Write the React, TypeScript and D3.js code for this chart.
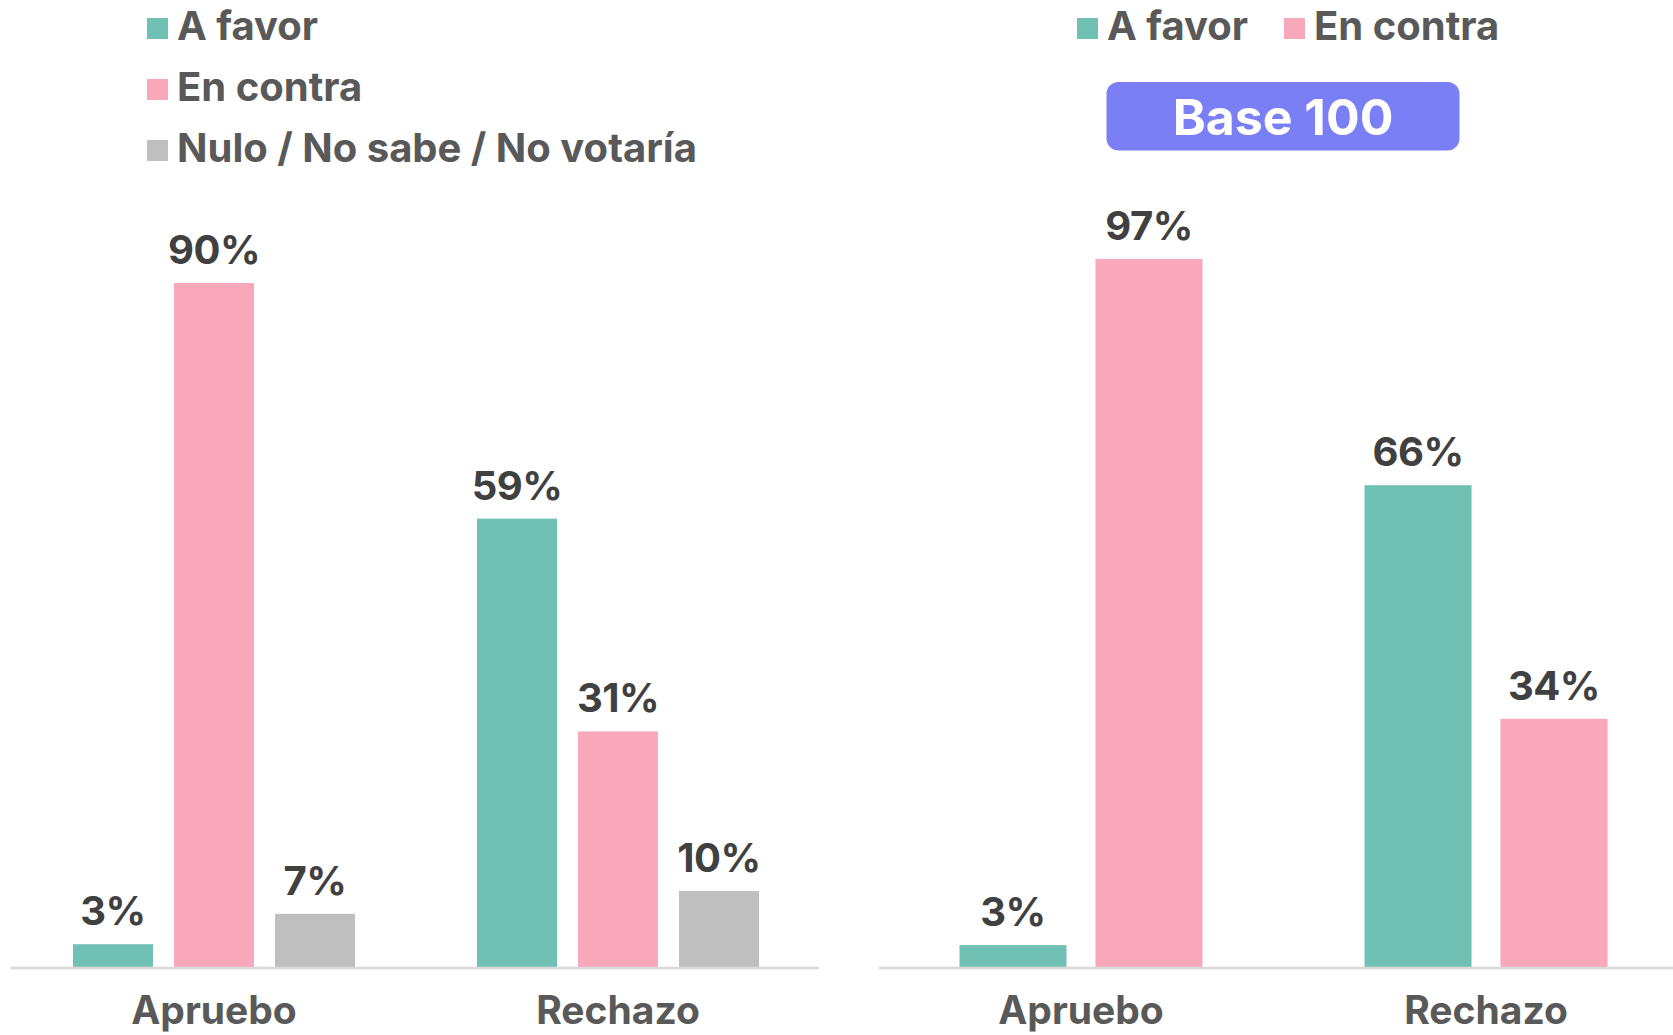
import React, { useEffect } from "react";
import * as d3 from "d3";

const categories = ["Apruebo", "Rechazo"];
const leftSeries = ["A favor", "En contra", "Nulo / No sabe / No votaría"];
const leftValues = [
  [3, 90, 7],
  [59, 31, 10],
];
const rightSeries = ["A favor", "En contra"];
const rightValues = [
  [3, 97],
  [66, 34],
];
const colors = ["#70C1B3", "#F8A8BA", "#BFBFBF"];
const badgeText = "Base 100";

const FONT = "Inter, 'Open Sans', sans-serif";
const BASE = 967;

export default function App() {
  useEffect(() => {
    document.body.style.margin = "0";
  }, []);

  // left chart scales
  const xL = d3.scaleBand<string>().domain(categories).range([12, 820]);
  const xLi = d3
    .scaleBand<string>()
    .domain(leftSeries)
    .range([50.5, 353.5])
    .paddingInner(0.208)
    .paddingOuter(0.104);
  const yL = d3.scaleLinear().domain([0, 100]).range([BASE, 207]);

  // right chart scales
  const xR = d3.scaleBand<string>().domain(categories).range([878.5, 1688.5]);
  const xRi = d3
    .scaleBand<string>()
    .domain(rightSeries)
    .range([66.5, 338.5])
    .paddingInner(0.213)
    .paddingOuter(0.1066);
  const yR = d3.scaleLinear().domain([0, 100]).range([BASE, 237]);

  return (
    <svg width={1673} height={1035} style={{ display: "block" }} fontFamily={FONT}>
      <rect width={1673} height={1035} fill="#fff" />
      {/* left legend */}
      {leftSeries.map((s, i) => (
        <g key={s} transform={`translate(147, ${18 + i * 61})`}>
          <rect width={21} height={21} fill={colors[i]} />
          <text x={30} y={22} fontSize={40} fontWeight={700} fill="#595959">
            {s}
          </text>
        </g>
      ))}
      {/* right legend */}
      {rightSeries.map((s, i) => (
        <g key={s} transform={`translate(${1077 + i * 207}, 18)`}>
          <rect width={21} height={21} fill={colors[i]} />
          <text x={30} y={22} fontSize={40} fontWeight={700} fill="#595959">
            {s}
          </text>
        </g>
      ))}
      {/* badge */}
      <rect x={1106.5} y={82} width={353} height={68.5} rx={12} fill="#7B7FF5" />
      <text x={1283} y={135} textAnchor="middle" fontSize={50} fontWeight={700} fill="#fff">
        {badgeText}
      </text>

      {/* left bars */}
      {categories.map((c, ci) => (
        <g key={"L" + c} transform={`translate(${xL(c)},0)`}>
          {leftSeries.map((s, si) => {
            const v = leftValues[ci][si];
            const x = xLi(s)!;
            return (
              <g key={s}>
                <rect x={x} y={yL(v)} width={xLi.bandwidth()} height={BASE - yL(v)} fill={colors[si]} />
                <text
                  x={x + xLi.bandwidth() / 2}
                  y={yL(v) - 19}
                  textAnchor="middle"
                  fontSize={40}
                  fontWeight={700}
                  fill="#404040"
                  letterSpacing={-0.5}
                >
                  {v}%
                </text>
              </g>
            );
          })}
          <text x={xL.bandwidth() / 2} y={1024} textAnchor="middle" fontSize={39} fontWeight={700} fill="#595959">
            {c}
          </text>
        </g>
      ))}
      <line x1={11} x2={819} y1={BASE + 1} y2={BASE + 1} stroke="#D9D9D9" strokeWidth={2.5} />

      {/* right bars */}
      {categories.map((c, ci) => (
        <g key={"R" + c} transform={`translate(${xR(c)},0)`}>
          {rightSeries.map((s, si) => {
            const v = rightValues[ci][si];
            const x = xRi(s)!;
            return (
              <g key={s}>
                <rect x={x} y={yR(v)} width={xRi.bandwidth()} height={BASE - yR(v)} fill={colors[si]} />
                <text
                  x={x + xRi.bandwidth() / 2}
                  y={yR(v) - 19}
                  textAnchor="middle"
                  fontSize={40}
                  fontWeight={700}
                  fill="#404040"
                  letterSpacing={-0.5}
                >
                  {v}%
                </text>
              </g>
            );
          })}
          <text x={xR.bandwidth() / 2} y={1024} textAnchor="middle" fontSize={39} fontWeight={700} fill="#595959">
            {c}
          </text>
        </g>
      ))}
      <line x1={879} x2={1673} y1={BASE + 1} y2={BASE + 1} stroke="#D9D9D9" strokeWidth={2.5} />
    </svg>
  );
}
